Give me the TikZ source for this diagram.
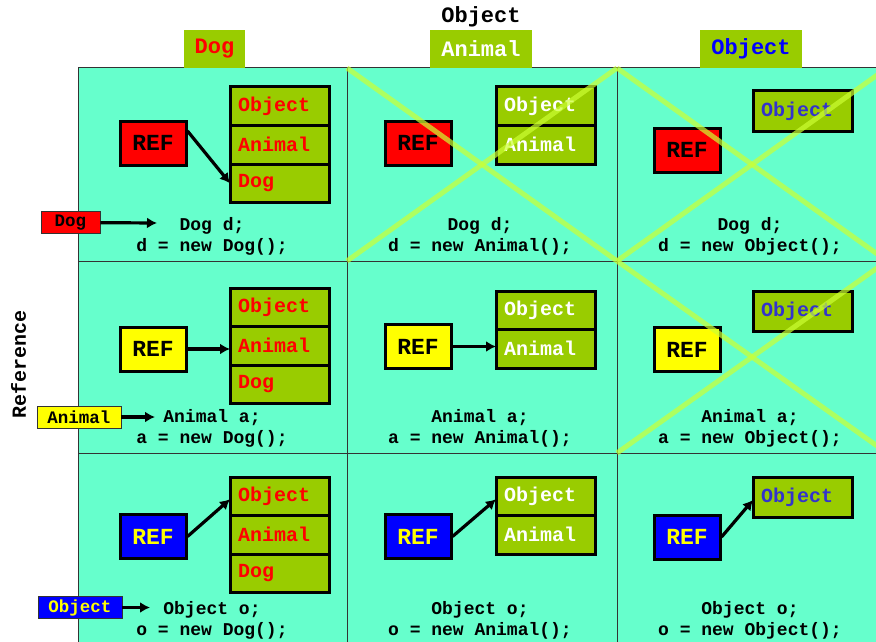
\documentclass[tikz,border=0pt]{standalone}
\usepackage{fontspec}
\setmonofont{Liberation Mono}
\usepackage{tikz}
\usetikzlibrary{arrows.meta,positioning}
\definecolor{cellmint}{RGB}{102,255,204}
\definecolor{objgreen}{RGB}{153,204,0}
\definecolor{refred}{RGB}{255,0,0}
\definecolor{refyellow}{RGB}{255,255,0}
\definecolor{refblue}{RGB}{0,0,255}
\definecolor{slotblue}{RGB}{51,51,204}
\definecolor{crossgreen}{RGB}{204,255,51}
\newcommand{\cw}[1]{\ttfamily\bfseries\fontsize{#1}{#1}\selectfont}
\tikzstyle{refbox}=[draw=black,line width=3pt,minimum width=66pt,minimum height=44pt,inner sep=0pt,font=\cw{23}]
\tikzstyle{slot}=[draw=black,line width=3pt,outer sep=0pt,fill=objgreen,text width=83pt,inner xsep=8pt,inner ysep=0pt,minimum height=38.5pt,align=left,font=\cw{20}]
\tikzstyle{header}=[fill=objgreen,minimum height=38pt,inner sep=0pt,font=\cw{22}]
\tikzstyle{tag}=[draw=black!80,line width=0.8pt,inner sep=0pt,minimum height=22pt,minimum width=84pt,font=\cw{17.5}]
\tikzstyle{code}=[align=center,inner sep=0pt,font=\ttfamily\bfseries\fontsize{18}{21}\selectfont]
\tikzstyle{pointer}=[draw,line width=3.2pt,-{Latex[length=10pt,width=11pt]}]
\tikzstyle{cross}=[draw=crossgreen,line width=5pt,opacity=0.7]
\tikzstyle{gridline}=[draw=black!80,line width=1pt]

\begin{document}
\begin{tikzpicture}[x=1pt,y=-1pt]
    \useasboundingbox (0,0) rectangle (876,642);
    % table of cells
    \fill[cellmint] (78,68) rectangle (887,645);
    \foreach \x in {78,347,617}
        \path[gridline] (\x,68) -- (\x,645);
    \foreach \y in {68,261,453}
        \path[gridline] (78,\y) -- (887,\y);

    % column and row titles
    \node[font=\cw{22}] (otitle) at (481,17) {Object};
    \node[header,minimum width=61pt,text=refred] (hdog) at (214.5,49) {Dog};
    \node[header,minimum width=102pt,text=white] (hanimal) at (481,49) {Animal};
    \node[header,minimum width=102pt,text=refblue] (hobject) at (751,49) {Object};
    \node[rotate=90,font=\cw{20}] (rlabel) at (18.5,364) {Reference};

    % the objects
    \foreach \row/\y in {1/106.25, 2/307.25, 3/496.25}{
        \node[slot,text=refred] (s\row1a) at (279.5,\y) {Object};
        \node[slot,text=refred,below=0pt of s\row1a] (s\row1b) {Animal};
        \node[slot,text=refred,below=0pt of s\row1b] (s\row1c) {Dog};
    }
    \foreach \row/\y in {1/106.25, 2/310.25, 3/496.25}{
        \node[slot,text=white] (s\row2a) at (545.5,\y) {Object};
        \node[slot,text=white,below=0pt of s\row2a] (s\row2b) {Animal};
    }
    \foreach \row/\y in {1/111, 2/311, 3/497}
        \node[slot,text=slotblue,minimum height=40pt] (s\row3a) at (802.5,\y) {Object};

    % the references
    \foreach \pos/\name/\fillc/\textc in {{(153,143)/r11/refred/black}, {(418,143)/r12/refred/black},
                                    {(687,150)/r13/refred/black}, {(153,349)/r21/refyellow/black},
                                    {(418,346.5)/r22/refyellow/black}, {(687,349.5)/r23/refyellow/black},
                                    {(153,536.5)/r31/refblue/refyellow}, {(418,536.5)/r32/refblue/refyellow},
                                    {(687,537)/r33/refblue/refyellow}}
        \node[refbox,fill=\fillc,text=\textc] (\name) at \pos {REF};

    % pointers
    \path[pointer] ([yshift=12pt] r11.east) -- (s11c.west);
    \path[pointer] (r21.east) -- (r21.east -| s21b.west);
    \path[pointer] (r22.east) -- (r22.east -| s22b.west);
    \path[pointer] (r31.east) -- ([yshift=-3pt] s31a.west);
    \path[pointer] (r32.east) -- ([yshift=-3pt] s32a.west);
    \path[pointer] (r33.east) -- ([yshift=-3pt] s33a.west);

    % the declarations
    \foreach \x/\y/\decl/\init in {212/236/Dog d;/d = new Dog();, 480/236/Dog d;/d = new Animal();,
                                  750/236/Dog d;/d = new Object();, 212/428/Animal a;/a = new Dog();,
                                  480/428/Animal a;/a = new Animal();, 750/428/Animal a;/a = new Object();,
                                  212/620/Object o;/o = new Dog();, 480/620/Object o;/o = new Animal();,
                                  750/620/Object o;/o = new Object();}
        \node[code] (c\x\y) at (\x,\y) {\decl\\\init};

    % reference types on the left
    \node[tag,fill=refred,minimum width=59pt] (tdog) at (70.5,222.5) {Dog};
    \node[tag,fill=refyellow] (tanimal) at (79,417) {Animal};
    \node[tag,fill=refblue,text=refyellow] (tobject) at (80,607.5) {Object};
    \coordinate (edog) at (157,223);
    \coordinate (eanimal) at (155,417);
    \coordinate (eobject) at (150,607.5);
    \path[pointer] (tdog) -- (edog);
    \path[pointer] (tanimal) -- (eanimal);
    \path[pointer] (tobject) -- (eobject);

    % not allowed
    \path[cross] (347,68) -- (617,261);
    \path[cross] (347,261) -- (617,68);
    \path[cross] (617,68) -- (887,261);
    \path[cross] (617,261) -- (887,68);
    \path[cross] (617,261) -- (887,453);
    \path[cross] (617,453) -- (887,261);
\end{tikzpicture}
\end{document}
